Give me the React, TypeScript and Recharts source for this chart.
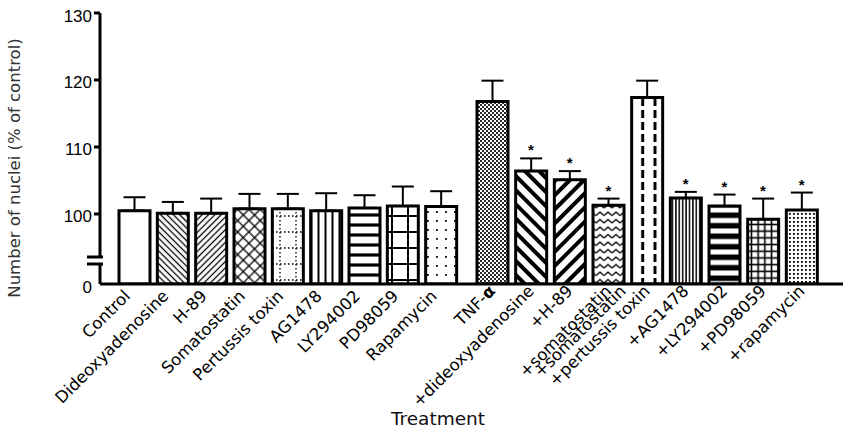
import React from 'react';
import { ComposedChart, Bar, Line, XAxis, YAxis, ErrorBar, Cell } from 'recharts';

// nuclei counts, % of control
const baseTreatments = ['Control', 'Dideoxyadenosine', 'H-89', 'Somatostatin', 'Pertussis toxin', 'AG1478', 'LY294002', 'PD98059', 'Rapamycin'];
const baseMeans = [100.5, 100.1, 100.1, 100.8, 100.8, 100.5, 100.9, 101.2, 101.1];
const baseSem = [2.0, 1.7, 2.2, 2.2, 2.2, 2.6, 1.9, 2.9, 2.3];

const tnfTreatments = ['TNF-α', '+dideoxyadenosine', '+H-89', '+somatostatin', '+pertussis toxin', '+AG1478', '+LY294002', '+PD98059', '+rapamycin'];
const tnfMeans = [116.8, 106.4, 105.1, 101.3, 117.4, 102.4, 101.2, 99.2, 100.6];
const tnfSem = [3.1, 1.9, 1.3, 1.0, 2.5, 0.9, 1.7, 3.1, 2.6];
const tnfSignificant = [false, true, true, true, false, true, true, true, true];
// the figure prints a second "+somatostatin" next to this tick
const tnfExtraTick: Record<string, string> = { '+pertussis toxin': '+somatostatin' };

const yTicks = [0, 100, 110, 120, 130];

// broken axis: everything above the break is shifted down
const BREAK = 89.55;
const toAxis = (v: number) => (v === 0 ? 0 : v - BREAK);
const Y_MAX = toAxis(130);

const leftFills = ['#fff', 'url(#pl-back)', 'url(#pl-fwd)', 'url(#pl-diamond)', 'url(#pl-dotgrid)', 'url(#pl-vert)', 'url(#pl-horiz)', 'url(#pl-grid)', 'url(#pl-dots)'];
const rightFills = ['url(#pr-checker)', 'url(#pr-back)', 'url(#pr-fwd)', 'url(#pr-zigzag)', 'url(#pr-dash)', 'url(#pr-vert)', 'url(#pr-horiz)', 'url(#pr-grid)', 'url(#pr-dots)'];

const leftData = baseTreatments.map((name, i) => ({
  name,
  mean: toAxis(baseMeans[i]),
  sem: [0, baseSem[i]],
}));

const rightData = tnfTreatments.map((name, i) => ({
  name,
  mean: toAxis(tnfMeans[i]),
  sem: [0, tnfSem[i]],
  star: tnfSignificant[i] ? toAxis(tnfMeans[i] + tnfSem[i]) : null,
}));

const LABEL_FONT = '"DejaVu Sans", Verdana, sans-serif';
const NUM_FONT = '"Liberation Sans", Arial, sans-serif';

function SlantedText({ x, y, text }: { x: number; y: number; text: string }) {
  const parts = text.split('α');
  return (
    <text x={x} y={y} transform={`rotate(-45, ${x}, ${y})`} textAnchor="end" fontSize={16.5} fontFamily={LABEL_FONT} fill="#000">
      {parts.map((p, i) => (
        <React.Fragment key={i}>
          {p}
          {i < parts.length - 1 && <tspan fontWeight="bold">α</tspan>}
        </React.Fragment>
      ))}
    </text>
  );
}

function CategoryTick(props: any) {
  const { x, y, payload, shiftX = 0, shiftY = 0 } = props;
  const extra = tnfExtraTick[payload.value];
  return (
    <g>
      {extra && <SlantedText x={x + shiftX - 24} y={y + shiftY} text={extra} />}
      <SlantedText x={x + shiftX} y={y + shiftY} text={payload.value} />
    </g>
  );
}

function ValueTick(props: any) {
  const { x, y, payload } = props;
  const axisX = x + 8;
  const label = payload.value === 0 ? 0 : Math.round(payload.value + BREAK);
  return (
    <g>
      {label !== 0 && <line x1={axisX - 6} y1={y} x2={axisX} y2={y} stroke="#000" strokeWidth={3} />}
      {label === 0 && (
        <g stroke="#000" strokeWidth={3}>
          <line x1={axisX - 13} y1={y - 27} x2={axisX + 3} y2={y - 27} />
          <line x1={axisX - 13} y1={y - 20} x2={axisX + 3} y2={y - 20} />
        </g>
      )}
      <text x={x} y={y + 3} textAnchor="end" dominantBaseline="central" fontSize={17} fontFamily={NUM_FONT} fill="#000">
        {label}
      </text>
    </g>
  );
}

function Star(props: any) {
  const { cx, cy, value, index } = props;
  if (value == null || cy == null) return <g key={index} />;
  return (
    <text key={index} x={cx} y={cy - 3} textAnchor="middle" fontSize={15} fontWeight="bold" fontFamily={NUM_FONT} fill="#000">
      *
    </text>
  );
}

function LeftPatterns() {
  return (
    <defs>
      <pattern id="pl-back" width="4.5" height="4.5" patternUnits="userSpaceOnUse" patternTransform="rotate(-45)">
        <rect width="4.5" height="4.5" fill="#fff" />
        <line x1="2.25" y1="0" x2="2.25" y2="4.5" stroke="#000" strokeWidth="1.3" />
      </pattern>
      <pattern id="pl-fwd" width="4.5" height="4.5" patternUnits="userSpaceOnUse" patternTransform="rotate(45)">
        <rect width="4.5" height="4.5" fill="#fff" />
        <line x1="2.25" y1="0" x2="2.25" y2="4.5" stroke="#000" strokeWidth="1.3" />
      </pattern>
      <pattern id="pl-diamond" width="8" height="8" patternUnits="userSpaceOnUse" patternTransform="rotate(45)">
        <rect width="8" height="8" fill="#fff" />
        <line x1="4" y1="0" x2="4" y2="8" stroke="#000" strokeWidth="1.3" />
        <line x1="0" y1="4" x2="8" y2="4" stroke="#000" strokeWidth="1.3" />
      </pattern>
      <pattern id="pl-dotgrid" width="16" height="16" patternUnits="userSpaceOnUse">
        <rect width="16" height="16" fill="#fff" />
        <line x1="0" y1="8" x2="16" y2="8" stroke="#000" strokeWidth="1.3" strokeDasharray="1.5 2.5" />
        <line x1="8" y1="0" x2="8" y2="16" stroke="#000" strokeWidth="1.3" strokeDasharray="1.5 2.5" />
      </pattern>
      <pattern id="pl-vert" width="7" height="7" patternUnits="userSpaceOnUse">
        <rect width="7" height="7" fill="#fff" />
        <line x1="3.5" y1="0" x2="3.5" y2="7" stroke="#000" strokeWidth="2" />
      </pattern>
      <pattern id="pl-horiz" width="10" height="10" patternUnits="userSpaceOnUse">
        <rect width="10" height="10" fill="#fff" />
        <line x1="0" y1="5" x2="10" y2="5" stroke="#000" strokeWidth="3.2" />
      </pattern>
      <pattern id="pl-grid" width="16" height="16" patternUnits="userSpaceOnUse">
        <rect width="16" height="16" fill="#fff" />
        <line x1="8" y1="0" x2="8" y2="16" stroke="#000" strokeWidth="2" />
        <line x1="0" y1="8" x2="16" y2="8" stroke="#000" strokeWidth="2" />
      </pattern>
      <pattern id="pl-dots" width="9" height="9" patternUnits="userSpaceOnUse">
        <rect width="9" height="9" fill="#fff" />
        <rect x="4" y="4" width="1.8" height="1.8" fill="#000" />
      </pattern>
    </defs>
  );
}

function RightPatterns() {
  return (
    <defs>
      <pattern id="pr-checker" width="4" height="4" patternUnits="userSpaceOnUse">
        <rect width="4" height="4" fill="#fff" />
        <rect x="0" y="0" width="2" height="2" fill="#000" />
        <rect x="2" y="2" width="2" height="2" fill="#000" />
        <rect x="0.6" y="0.6" width="0.8" height="0.8" fill="#fff" />
        <rect x="2.6" y="2.6" width="0.8" height="0.8" fill="#fff" />
      </pattern>
      <pattern id="pr-back" width="10" height="10" patternUnits="userSpaceOnUse" patternTransform="rotate(-45)">
        <rect width="10" height="10" fill="#fff" />
        <line x1="5" y1="0" x2="5" y2="10" stroke="#000" strokeWidth="4" />
      </pattern>
      <pattern id="pr-fwd" width="10" height="10" patternUnits="userSpaceOnUse" patternTransform="rotate(45)">
        <rect width="10" height="10" fill="#fff" />
        <line x1="5" y1="0" x2="5" y2="10" stroke="#000" strokeWidth="4" />
      </pattern>
      <pattern id="pr-zigzag" width="8" height="7.5" patternUnits="userSpaceOnUse">
        <rect width="8" height="7.5" fill="#fff" />
        <polyline points="0,5.5 4,2 8,5.5" fill="none" stroke="#000" strokeWidth="1.3" />
      </pattern>
      <pattern id="pr-dash" x="4.35" width="12.3" height="12" patternUnits="userSpaceOnUse">
        <rect width="12.3" height="12" fill="#fff" />
        <line x1="6.15" y1="2" x2="6.15" y2="10" stroke="#000" strokeWidth="3" />
      </pattern>
      <pattern id="pr-vert" width="3.4" height="4" patternUnits="userSpaceOnUse">
        <rect width="3.4" height="4" fill="#fff" />
        <line x1="1.7" y1="0" x2="1.7" y2="4" stroke="#000" strokeWidth="1.5" />
      </pattern>
      <pattern id="pr-horiz" width="10.5" height="10.5" patternUnits="userSpaceOnUse">
        <rect width="10.5" height="10.5" fill="#fff" />
        <rect x="0" y="2.5" width="10.5" height="5.5" fill="#000" />
      </pattern>
      <pattern id="pr-grid" width="6.7" height="6.7" patternUnits="userSpaceOnUse">
        <rect width="6.7" height="6.7" fill="#fff" />
        <line x1="3.35" y1="0" x2="3.35" y2="6.7" stroke="#000" strokeWidth="1.6" />
        <line x1="0" y1="3.35" x2="6.7" y2="3.35" stroke="#000" strokeWidth="1.6" />
      </pattern>
      <pattern id="pr-dots" width="4" height="4" patternUnits="userSpaceOnUse">
        <rect width="4" height="4" fill="#fff" />
        <rect x="1" y="1" width="1.8" height="1.8" fill="#000" />
      </pattern>
    </defs>
  );
}

const axisStroke = { stroke: '#000', strokeWidth: 3 };

export default function App() {
  return (
    <div style={{ position: 'absolute', left: 0, top: 0, width: 843, height: 436, background: '#fff' }}>
      <style>{'.recharts-surface { overflow: visible; }'}</style>
      <div style={{ position: 'absolute', left: 0, top: 0 }}>
        <ComposedChart width={460} height={436} data={leftData} margin={{ top: 13, right: 0, bottom: 0, left: 40 }}>
          <LeftPatterns />
          <XAxis
            dataKey="name"
            type="category"
            interval={0}
            height={152}
            padding={{ left: 15, right: 0 }}
            axisLine={axisStroke}
            tickLine={false}
            tickSize={0}
            tickMargin={2}
            tick={<CategoryTick shiftX={-3} shiftY={11} />}
          />
          <YAxis
            type="number"
            domain={[0, Y_MAX]}
            ticks={yTicks.map(toAxis)}
            interval={0}
            width={60}
            allowDataOverflow
            axisLine={{ stroke: '#000', strokeWidth: 3, strokeDasharray: '245 5 100' }}
            tickLine={false}
            tickSize={5}
            tickMargin={3}
            tick={<ValueTick />}
          />
          <Bar dataKey="mean" barSize={31} stroke="#000" strokeWidth={3} isAnimationActive={false}>
            {leftData.map((d, i) => (
              <Cell key={d.name} fill={leftFills[i]} />
            ))}
            <ErrorBar dataKey="sem" direction="y" width={11} stroke="#000" strokeWidth={2} isAnimationActive={false} />
          </Bar>
          <text
            x={20}
            y={168}
            transform="rotate(-90, 20, 168)"
            textAnchor="middle"
            fontSize={16.5}
            fontFamily={LABEL_FONT}
            fill="#333"
          >
            Number of nuclei (% of control)
          </text>
        </ComposedChart>
      </div>
      <div style={{ position: 'absolute', left: 460, top: 0 }}>
        <ComposedChart width={383} height={436} data={rightData} margin={{ top: 13, right: 0, bottom: 0, left: 0 }}>
          <RightPatterns />
          <XAxis
            dataKey="name"
            type="category"
            interval={0}
            height={152}
            padding={{ left: 13, right: 22 }}
            axisLine={axisStroke}
            tickLine={false}
            tickSize={0}
            tickMargin={2}
            tick={<CategoryTick shiftX={4} shiftY={6} />}
          />
          <YAxis type="number" domain={[0, Y_MAX]} hide allowDataOverflow />
          <Bar dataKey="mean" barSize={31} stroke="#000" strokeWidth={3} isAnimationActive={false}>
            {rightData.map((d, i) => (
              <Cell key={d.name} fill={rightFills[i]} />
            ))}
            <ErrorBar dataKey="sem" direction="y" width={11} stroke="#000" strokeWidth={2} isAnimationActive={false} />
          </Bar>
          <Line dataKey="star" stroke="none" dot={Star} activeDot={false} legendType="none" isAnimationActive={false} />
        </ComposedChart>
      </div>
      <div
        style={{
          position: 'absolute',
          left: 338,
          top: 410,
          width: 200,
          textAlign: 'center',
          fontFamily: LABEL_FONT,
          fontSize: 18.5,
          lineHeight: '18px',
          color: '#111',
        }}
      >
        Treatment
      </div>
    </div>
  );
}
